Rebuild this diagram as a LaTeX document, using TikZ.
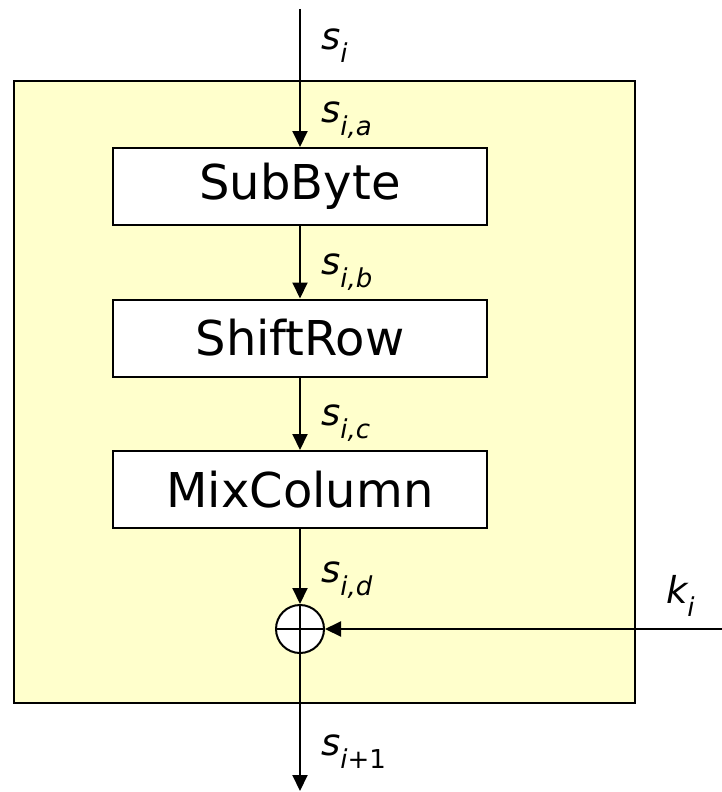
\documentclass[tikz,border=0pt]{standalone}
\usepackage{fontspec}
\setmainfont{DejaVu Sans}
\usetikzlibrary{arrows.meta}
\definecolor{boxyellow}{RGB}{255,255,204}
\newcommand\lab[2]{{\fontsize{37}{44}\selectfont\itshape #1}\raisebox{-13pt}{\fontsize{26}{30}\selectfont #2}}
\begin{document}
\begin{tikzpicture}[x=1pt,y=-1pt,
  every path/.style={line width=2pt},
  stage/.style={draw, fill=white, line width=2pt, minimum width=374pt, minimum height=77pt, inner sep=0pt, font=\fontsize{48}{56}\selectfont},
  flow/.style={-{Triangle[length=16pt,width=15pt]}, line width=2pt},
  lbl/.style={anchor=base west, inner sep=0pt}]
\useasboundingbox (0,0) rectangle (722,792);
\node[draw, fill=boxyellow, line width=2pt, minimum width=621pt, minimum height=622pt, inner sep=0pt, anchor=north west] (round) at (13,80) {};
\coordinate (in) at (300,9);
\node[stage] (sub) at (300,186.5) {SubByte};
\node[stage] (shift) at (300,338) {ShiftRow};
\node[stage] (mix) at (300,489.5) {MixColumn};
\node[draw, circle, fill=white, minimum size=48pt, inner sep=0pt, line width=2pt] (xor) at (300,629) {};
\draw (xor.north) -- (xor.south) (xor.west) -- (xor.east);
\coordinate (kin) at (722,629);
\coordinate (out) at (300,791);
\draw[flow] (in) -- (sub.north);
\draw[flow] (sub.south) -- (shift.north);
\draw[flow] (shift.south) -- (mix.north);
\draw[flow] (mix.south) -- (xor.north);
\draw[flow] (kin) -- (xor.east);
\draw[flow] (xor.south) -- (out);
\node[lbl] (ls) at (320,50) {\lab{s}{\itshape i}};
\node[lbl] (lsa) at (320,122) {\lab{s}{\itshape i,a}};
\node[lbl] (lsb) at (320,274) {\lab{s}{\itshape i,b}};
\node[lbl] (lsc) at (320,425) {\lab{s}{\itshape i,c}};
\node[lbl] (lsd) at (320,582) {\lab{s}{\itshape i,d}};
\node[lbl] (lsn) at (320,755) {\lab{s}{{\itshape i}+1}};
\node[lbl] (lk) at (665,603) {\lab{k}{\itshape i}};
\end{tikzpicture}
\end{document}
